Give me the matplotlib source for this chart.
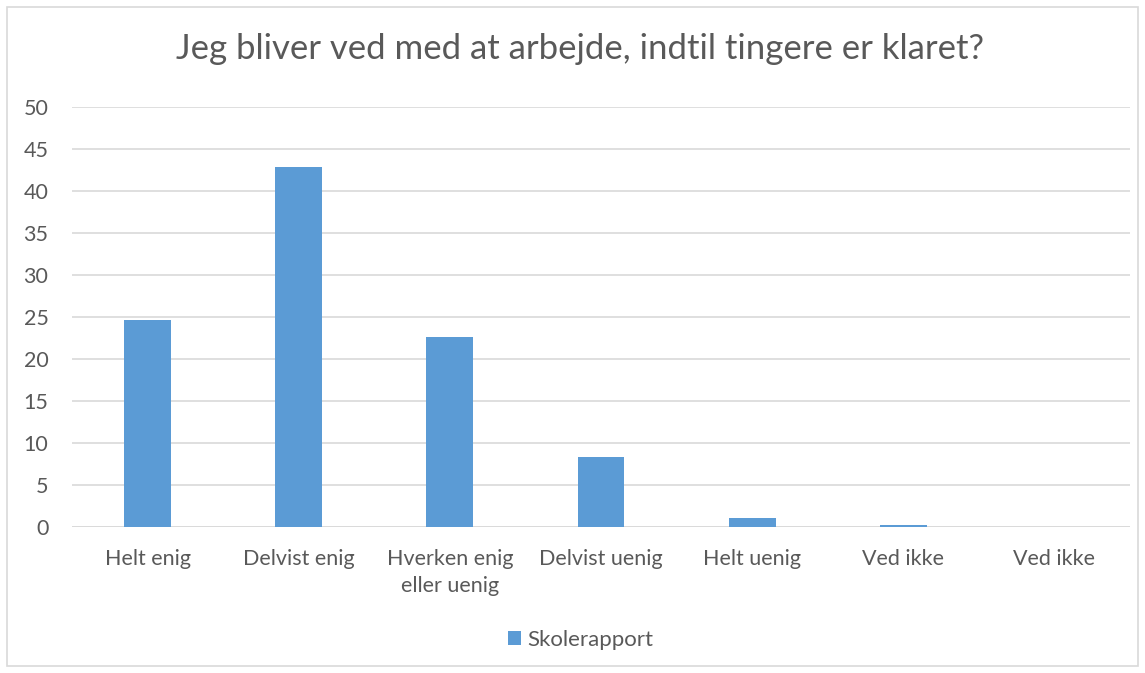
import matplotlib
matplotlib.use("Agg")
import matplotlib.pyplot as plt
from matplotlib.patches import Rectangle

categories = ["Helt enig", "Delvist enig", "Hverken enig\neller uenig", "Delvist uenig",
              "Helt uenig", "Ved ikke", "Ved ikke"]
values = [24.6, 42.9, 22.6, 8.3, 1.07, 0.24, 0.0]
series_name = "Skolerapport"
title = "Jeg bliver ved med at arbejde, indtil tingere er klaret?"

plt.rcParams['font.family'] = ['Lato', 'DejaVu Sans']
txt = "#595959"
fig = plt.figure(figsize=(11.45, 6.73), dpi=100)
fig.patches.append(Rectangle((7/1145, 7/673), 1131/1145, 659/673, transform=fig.transFigure,
                             fill=False, edgecolor="#D9D9D9", linewidth=1.2))
ax = fig.add_axes([72/1145, 1 - 527/673, (1130 - 72)/1145, 420/673])
x = range(len(categories))
ax.bar(x, values, width=0.31, color="#5B9BD5", label=series_name, zorder=3)
ax.set_ylim(0, 50)
ax.set_xlim(-0.5, len(categories) - 0.5)
ax.set_yticks(range(0, 51, 5))
ax.set_xticks(list(x))
ax.set_xticklabels(categories, fontsize=15.5, color=txt, linespacing=1.45)
ax.tick_params(axis='y', labelsize=15.5, labelcolor=txt, length=0, pad=17)
ax.tick_params(axis='x', length=0, pad=16)
ax.grid(axis='y', color="#D9D9D9", linewidth=1.2, zorder=0)
for s in ax.spines.values():
    s.set_visible(False)
ax.axhline(0, color="#D9D9D9", linewidth=1.2, zorder=2)
fig.text(0.5 + 8/1145, 1 - 49/673, title, ha='center', va='center', fontsize=25, color=txt)
leg = fig.legend(loc='center', bbox_to_anchor=(0.5 + 8/1145, 1 - 640/673), frameon=False,
                 fontsize=16, handlelength=0.6, handleheight=0.6, handletextpad=0.3)
for t in leg.get_texts():
    t.set_color(txt)
fig.savefig("out.png", dpi=100)
